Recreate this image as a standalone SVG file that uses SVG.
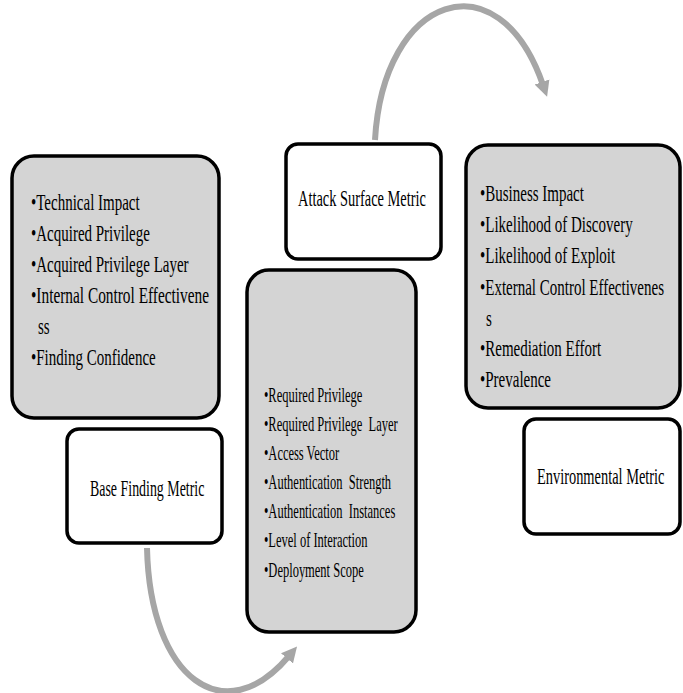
<svg xmlns="http://www.w3.org/2000/svg" width="683" height="693" viewBox="0 0 683 693">
<defs>
<style>
.gbox{fill:#d4d4d4;stroke:#000;stroke-width:3.5}
.wbox{fill:#fff;stroke:#000;stroke-width:3.5}
.t{font-family:"Liberation Serif","Times New Roman",serif;font-size:24px;fill:#000}
.m{font-family:"Liberation Serif","Times New Roman",serif;font-size:20px;fill:#000}
.arc{fill:none;stroke:#a6a6a6;stroke-width:6}
</style>
<marker id="ah" viewBox="0 0 10 10" refX="2" refY="5" markerWidth="2.6" markerHeight="3" orient="auto" markerUnits="strokeWidth">
<path d="M0,0 L10,5 L0,10 z" fill="#a6a6a6"/>
</marker>
</defs>
<rect width="683" height="693" fill="#fff"/>
<g id="connectors">
<path class="arc" d="M375,140 C383,-5 498,-45 543,85" marker-end="url(#ah)"/>
<path class="arc" d="M147,548 C150,680 225,732 289,656" marker-end="url(#ah)"/>
</g>
<g id="base-finding-list">
<rect class="gbox" x="12" y="156" width="207" height="262" rx="22"/>
<text class="t" transform="translate(31,210) scale(0.625,1)">•Technical Impact</text>
<text class="t" transform="translate(31,241) scale(0.625,1)">•Acquired Privilege</text>
<text class="t" transform="translate(31,272) scale(0.625,1)">•Acquired Privilege Layer</text>
<text class="t" transform="translate(31,303) scale(0.64,1)">•Internal Control Effectivene</text>
<text class="t" transform="translate(38,334) scale(0.625,1)">ss</text>
<text class="t" transform="translate(31,365) scale(0.625,1)">•Finding Confidence</text>
</g>
<g id="base-finding-metric">
<rect class="wbox" x="67" y="429" width="155" height="114" rx="12"/>
<text class="t" transform="translate(90,496) scale(0.58,1)">Base Finding Metric</text>
</g>
<g id="attack-surface-metric">
<rect class="wbox" x="286" y="144" width="155" height="115" rx="12"/>
<text class="t" transform="translate(298,206) scale(0.6,1)">Attack Surface Metric</text>
</g>
<g id="attack-surface-list">
<rect class="gbox" x="247" y="270" width="169" height="362" rx="22"/>
<text class="m" transform="translate(264,402) scale(0.625,1)">•Required Privilege</text>
<text class="m" transform="translate(264,431) scale(0.625,1)">•Required Privilege&#160; Layer</text>
<text class="m" transform="translate(264,460) scale(0.625,1)">•Access Vector</text>
<text class="m" transform="translate(264,489) scale(0.625,1)">•Authentication&#160; Strength</text>
<text class="m" transform="translate(264,518) scale(0.625,1)">•Authentication&#160; Instances</text>
<text class="m" transform="translate(264,547) scale(0.625,1)">•Level of Interaction</text>
<text class="m" transform="translate(264,577) scale(0.625,1)">•Deployment Scope</text>
</g>
<g id="environmental-list">
<rect class="gbox" x="466" y="145" width="214" height="263" rx="22"/>
<text class="t" transform="translate(480,201) scale(0.625,1)">•Business Impact</text>
<text class="t" transform="translate(480,232) scale(0.625,1)">•Likelihood of Discovery</text>
<text class="t" transform="translate(480,263) scale(0.625,1)">•Likelihood of Exploit</text>
<text class="t" transform="translate(480,295) scale(0.625,1)">•External Control Effectivenes</text>
<text class="t" transform="translate(486,326) scale(0.625,1)">s</text>
<text class="t" transform="translate(480,356) scale(0.625,1)">•Remediation Effort</text>
<text class="t" transform="translate(480,387) scale(0.625,1)">•Prevalence</text>
</g>
<g id="environmental-metric">
<rect class="wbox" x="524" y="419" width="156" height="115" rx="12"/>
<text class="t" transform="translate(537,484) scale(0.6,1)">Environmental Metric</text>
</g>
</svg>
